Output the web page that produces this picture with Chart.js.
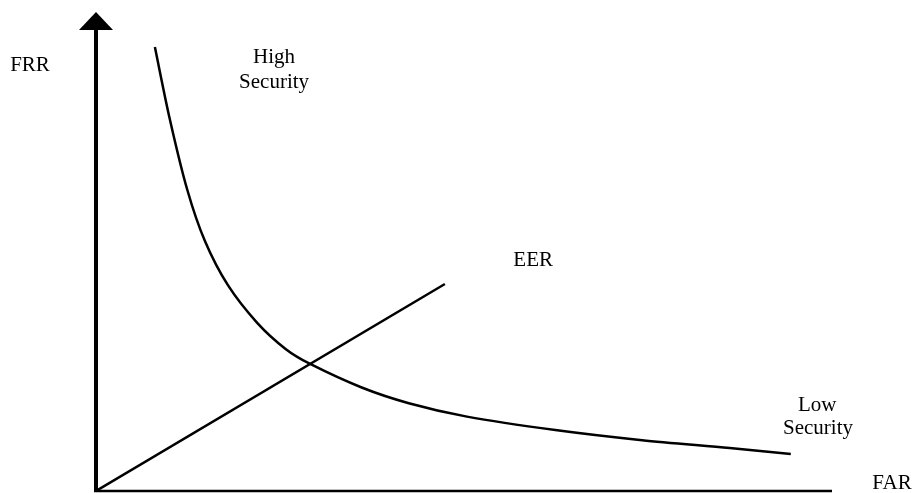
<!DOCTYPE html>
<html>
<head>
<meta charset="utf-8">
<script src="https://cdn.jsdelivr.net/npm/chart.js@4/dist/chart.umd.min.js"></script>
<style>
  html, body { margin: 0; padding: 0; background: #fff; }
  #wrap { width: 914px; height: 493px; position: relative; }
</style>
</head>
<body>
<div id="wrap"><canvas id="chart"></canvas></div>
<script>
// Kurve FRR/FAR (Einheiten 0..100)
const curveX = [8.0, 10.0, 12.4, 14.8, 17.9, 21.9, 25.8, 29.1, 36.1, 42.5, 50.4, 62.4, 74.2, 86.1, 94.4];
const curveY = [96.1, 80.7, 65.2, 54.1, 44.6, 36.4, 30.7, 27.5, 22.4, 19.0, 16.1, 13.2, 11.0, 9.3, 8.0];
// Gerade für EER
const eerX = [0, 47.4];
const eerY = [0, 44.8];
// Beschriftungen
const axisLabels = ['FRR', 'FAR'];
const highLabel = ['High', 'Security'];
const lowLabel = ['Low', 'Security'];
const eerLabel = 'EER';

const toPoints = (xs, ys) => xs.map((x, i) => ({ x: x, y: ys[i] }));

const FONT = '21px "Liberation Serif", "Times New Roman", serif';

// Achsen mit Pfeil und Texte zeichnen
const diagramPlugin = {
    id: 'diagram',
    afterDraw(chart) {
        const ctx = chart.ctx;
        const area = chart.chartArea;
        const xs = chart.scales.x, ys = chart.scales.y;
        ctx.save();
        ctx.strokeStyle = '#000';
        ctx.fillStyle = '#000';
        // y-Achse
        ctx.lineWidth = 4;
        ctx.beginPath();
        ctx.moveTo(area.left, area.bottom + 1);
        ctx.lineTo(area.left, area.top);
        ctx.stroke();
        // Pfeilspitze
        ctx.beginPath();
        ctx.moveTo(area.left, area.top - 17);
        ctx.lineTo(area.left - 17, area.top + 1);
        ctx.lineTo(area.left + 17, area.top + 1);
        ctx.closePath();
        ctx.fill();
        // x-Achse
        ctx.lineWidth = 2.5;
        ctx.beginPath();
        ctx.moveTo(area.left - 2, area.bottom);
        ctx.lineTo(area.right, area.bottom);
        ctx.stroke();

        // Texte
        ctx.font = FONT;
        ctx.textAlign = 'center';
        ctx.textBaseline = 'middle';
        ctx.fillText(axisLabels[0], area.left - 66, ys.getPixelForValue(92.2));
        ctx.fillText(axisLabels[1], area.right + 60, area.bottom - 8);
        ctx.fillText(highLabel[0], xs.getPixelForValue(24.2), ys.getPixelForValue(93.9));
        ctx.fillText(highLabel[1], xs.getPixelForValue(24.2), ys.getPixelForValue(88.5));
        ctx.fillText(eerLabel, xs.getPixelForValue(59.4), ys.getPixelForValue(50.0));
        ctx.fillText(lowLabel[0], xs.getPixelForValue(98.0), ys.getPixelForValue(18.6));
        ctx.fillText(lowLabel[1], xs.getPixelForValue(98.1), ys.getPixelForValue(13.6));
        ctx.restore();
    }
};

new Chart(document.getElementById('chart'), {
    type: 'scatter',
    data: {
        datasets: [
            { data: toPoints(curveX, curveY), showLine: true, borderColor: '#000', borderWidth: 2.5, pointRadius: 0, tension: 0.3 },
            { data: toPoints(eerX, eerY), showLine: true, borderColor: '#000', borderWidth: 2.5, pointRadius: 0 }
        ]
    },
    options: {
        responsive: true, maintainAspectRatio: false, animation: false,
        layout: { padding: { left: 96, right: 82, top: 29, bottom: 2 } },
        scales: {
            x: { type: 'linear', min: 0, max: 100, display: false },
            y: { type: 'linear', min: 0, max: 100, display: false }
        },
        plugins: { legend: { display: false }, tooltip: { enabled: false } }
    },
    plugins: [diagramPlugin]
});
</script>
</body>
</html>
